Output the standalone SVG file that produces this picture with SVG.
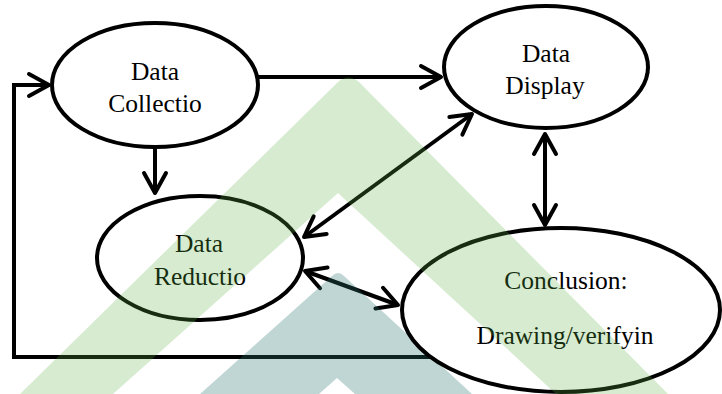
<svg xmlns="http://www.w3.org/2000/svg" width="722" height="394" viewBox="0 0 722 394">
<style>
.node ellipse{fill:#ffffff;stroke:#000;stroke-width:4}
.node text{font-family:"Liberation Serif","Times New Roman",serif;font-size:25.5px;fill:#000;text-anchor:middle}
.conn path{fill:none;stroke:#000;stroke-width:4;stroke-linejoin:miter}
</style>
<defs>
<marker id="ah" markerUnits="userSpaceOnUse" orient="auto-start-reverse" refX="0" refY="0" markerWidth="30" markerHeight="30" viewBox="-26 -15 30 30" overflow="visible">
<path d="M-20,-11 L0,0 L-20,11" fill="none" stroke="#000" stroke-width="4" stroke-linecap="round" stroke-linejoin="round"/>
</marker>
</defs>
<rect width="722" height="394" fill="#ffffff"/>
<g id="connectors" class="conn">
<path d="M258,77 L441,77" marker-end="url(#ah)"/>
<path d="M155,148 L155,193" marker-end="url(#ah)"/>
<path d="M430,357 L14,357 L14,85 L49,85" marker-end="url(#ah)"/>
<path d="M545,134 L545,225" marker-start="url(#ah)" marker-end="url(#ah)"/>
<path d="M304,237 L472,114" marker-start="url(#ah)" marker-end="url(#ah)"/>
<path d="M305,271 L398,305" marker-start="url(#ah)" marker-end="url(#ah)"/>
</g>
<path id="wm-teal" d="M200,394 L332,276 Q338,270 344,276 L472,394 L355,394 L337,378 L319,394 Z" fill="#2a7670" fill-opacity="0.3"/>
<g id="data-collection" class="node">
<ellipse cx="155" cy="85" rx="103" ry="62"/>
<text x="155" y="80">Data</text>
<text x="155" y="112">Collectio</text>
</g>
<g id="data-display" class="node">
<ellipse cx="546" cy="67" rx="102" ry="61"/>
<text x="546" y="62">Data</text>
<text x="545" y="94">Display</text>
</g>
<g id="data-reduction" class="node">
<ellipse cx="200" cy="258" rx="103" ry="62"/>
<text x="199" y="252">Data</text>
<text x="200" y="285">Reductio</text>
</g>
<g id="conclusion" class="node">
<ellipse cx="561" cy="310" rx="159" ry="82"/>
<text x="566" y="289">Conclusion:</text>
<text x="565" y="344">Drawing/verifyin</text>
</g>
<path id="wm-green" d="M20,394 L338,82 Q348,73 359,82 L668,394 L556,394 L338,193 L113,394 Z" fill="#5baf43" fill-opacity="0.25"/>
</svg>
